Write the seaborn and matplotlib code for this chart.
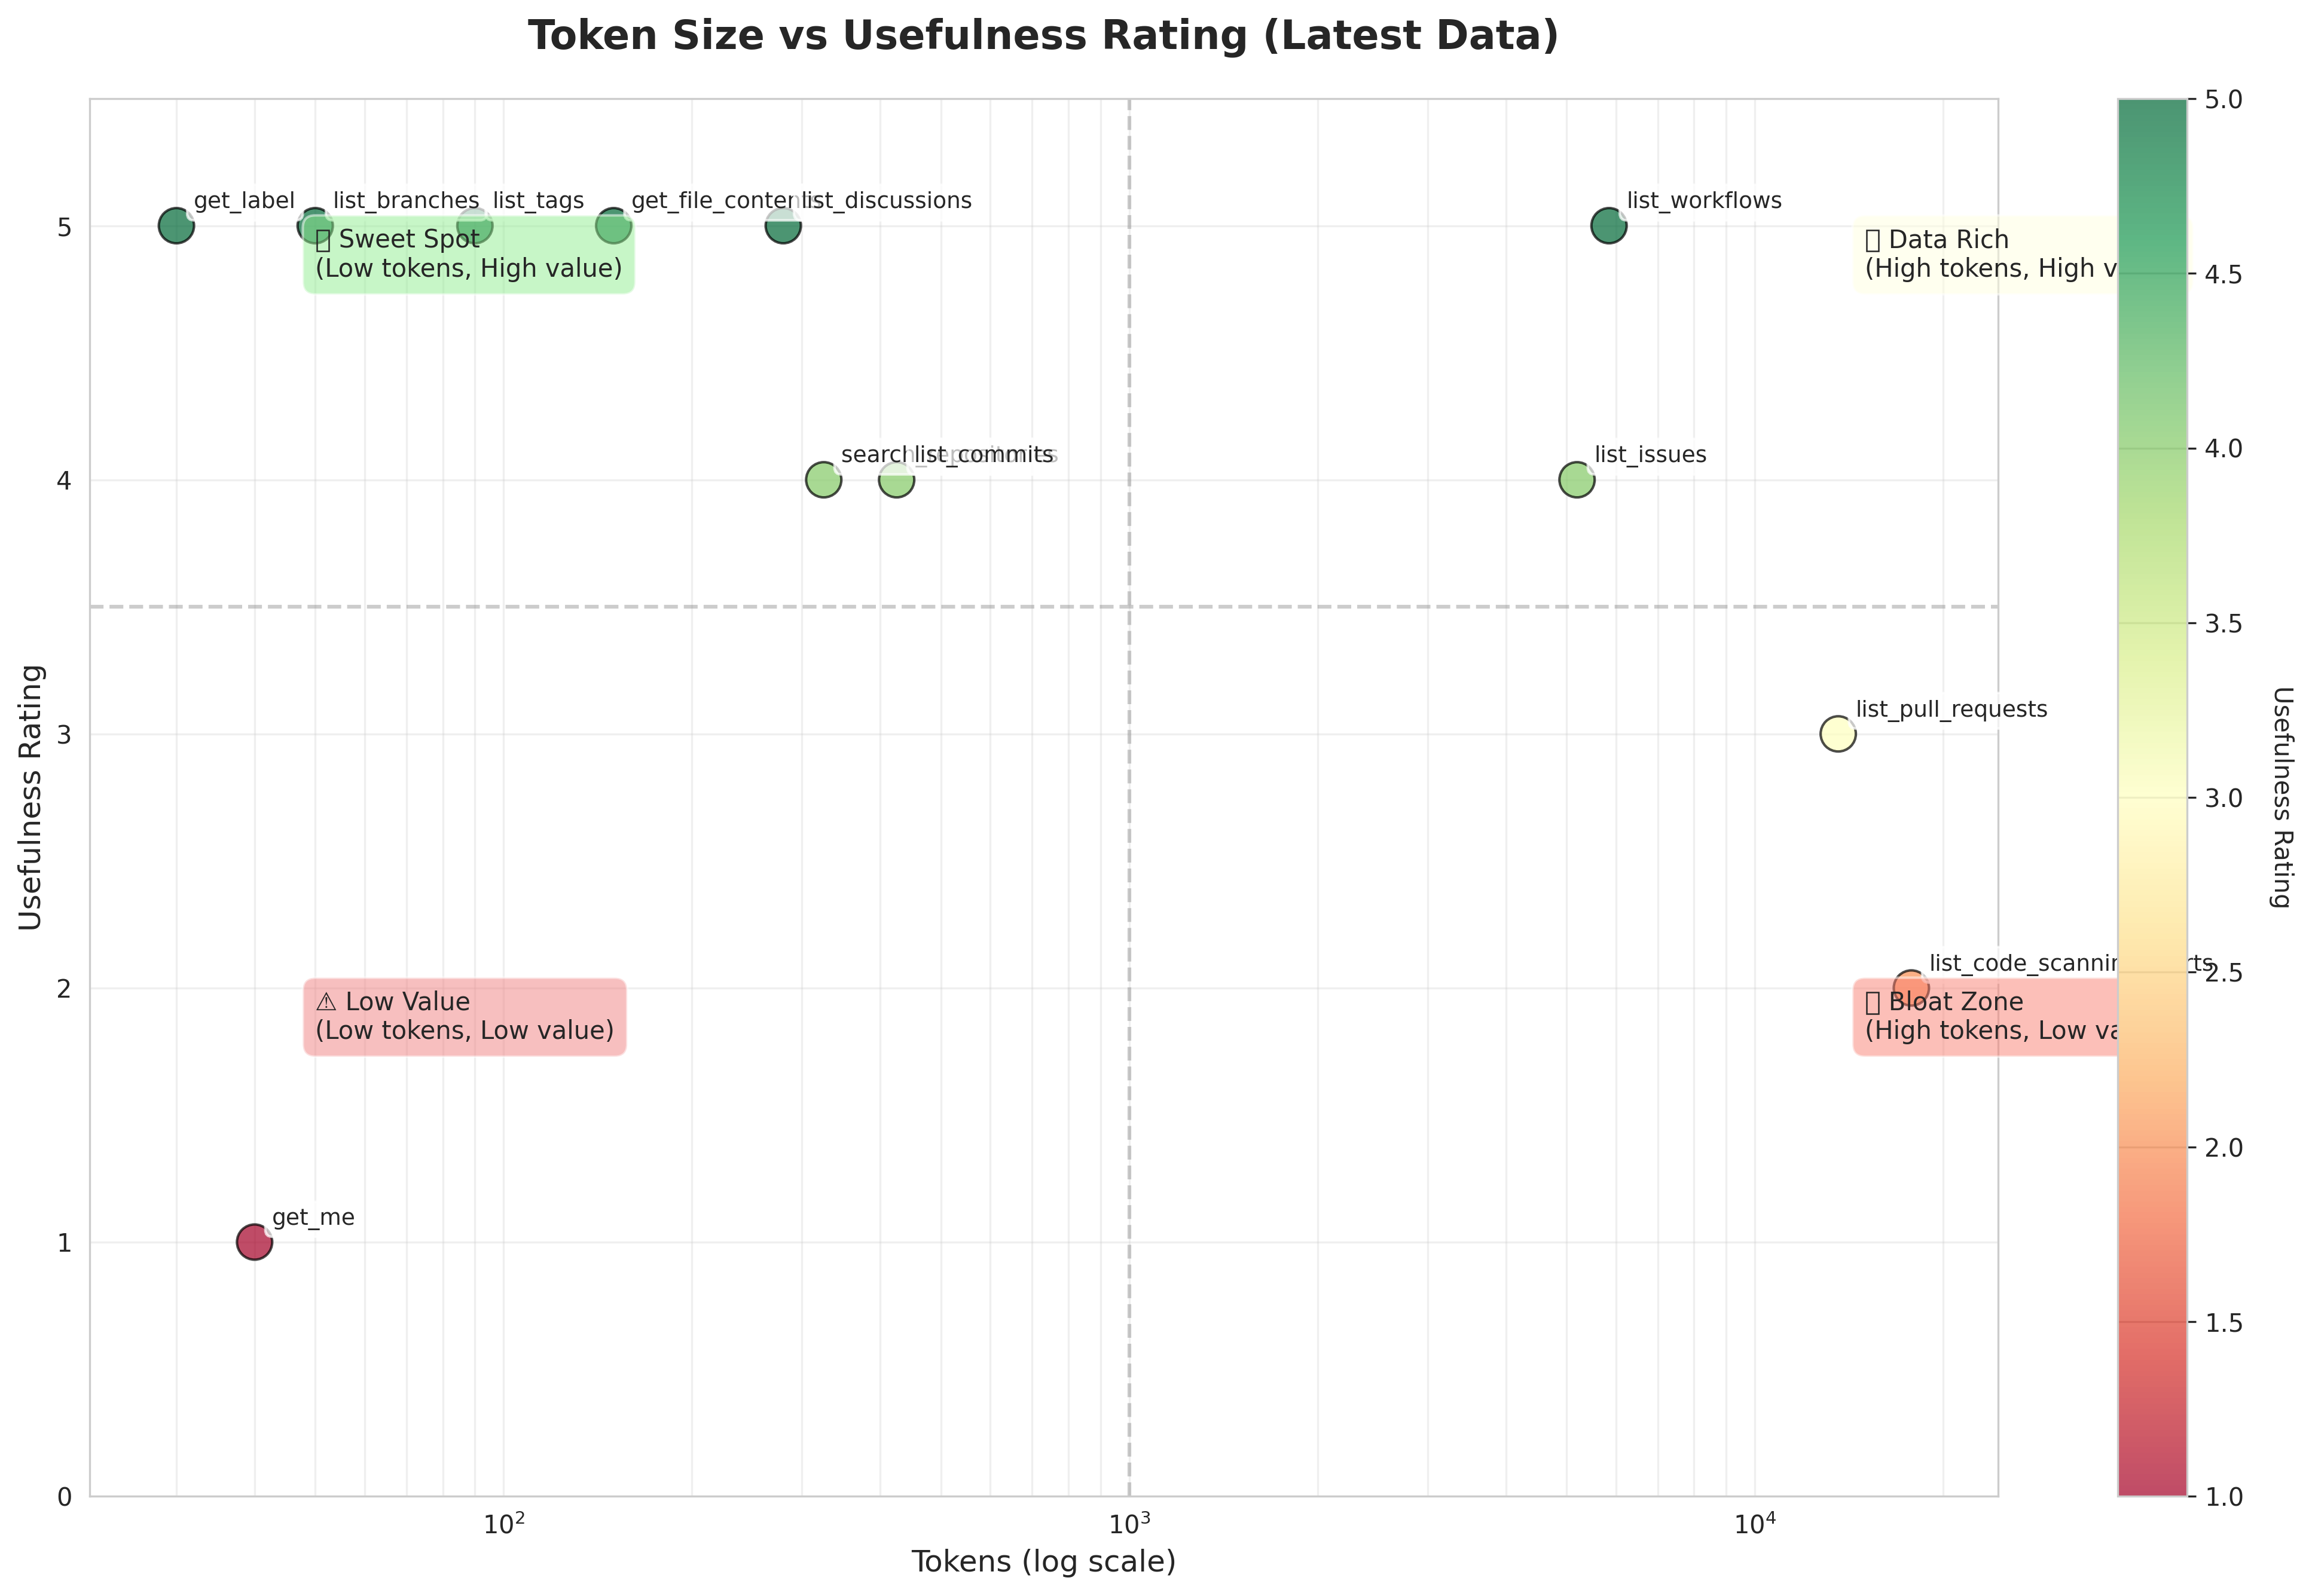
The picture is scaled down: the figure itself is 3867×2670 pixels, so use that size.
import matplotlib
matplotlib.use("Agg")
import matplotlib.pyplot as plt
from matplotlib.patches import Rectangle
from matplotlib.transforms import IdentityTransform
import seaborn as sns
import numpy as np
import pandas as pd

# tool data
tools = ['get_me', 'get_label', 'list_branches', 'list_tags', 'get_file_contents',
         'list_discussions', 'search_repositories', 'list_commits', 'list_issues',
         'list_workflows', 'list_pull_requests', 'list_code_scanning_alerts']
tokens = [40, 30, 50, 90, 150, 280, 325, 425, 5200, 5850, 13600, 17800]
ratings = [1, 5, 5, 5, 5, 5, 4, 4, 4, 5, 3, 2]

# quadrant notes: (x, y, text, colour, emoji glyph missing from the fonts?)
note_x = [50, 15000, 50, 15000]
note_y = [4.885, 4.885, 1.885, 1.885]
note_text = ['   Sweet Spot\n(Low tokens, High value)',
             '   Data Rich\n(High tokens, High value)',
             '⚠ Low Value\n(Low tokens, Low value)',
             '   Bloat Zone\n(High tokens, Low value)']
note_color = ['lightgreen', 'lightyellow', 'lightcoral', 'salmon']
note_tofu = [True, True, False, True]

df = pd.DataFrame({'tool': tools, 'tokens': tokens, 'rating': ratings})

sns.set_style('whitegrid')

W, H, DPI = 3867, 2670, 300
fig = plt.figure(figsize=(W / DPI, H / DPI), dpi=DPI)
ax = fig.add_axes([150 / W, 167 / H, 3192 / W, 2338 / H])
cax = fig.add_axes([3542 / W, 167 / H, 116 / W, 2338 / H])

sns.scatterplot(data=df, x='tokens', y='rating', hue='rating', palette='RdYlGn',
                hue_norm=(1, 5), s=200, alpha=0.7, edgecolor='black', linewidth=1,
                legend=False, ax=ax, zorder=2)
ax.set_xscale('log')
ax.set_ylim(0, 5.5)

# label each tool
for _, row in df.iterrows():
    ax.annotate(row['tool'], (row['tokens'], row['rating']),
                xytext=(7, 7), textcoords='offset points', fontsize=9,
                bbox=dict(boxstyle='round,pad=0.3', facecolor='white', alpha=0.7))

# quadrant lines
ax.axvline(1000, color='gray', linestyle='--', alpha=0.4, zorder=1)
ax.axhline(3.5, color='gray', linestyle='--', alpha=0.4, zorder=1)

# quadrant notes
notes = []
for x, y, txt, c in zip(note_x, note_y, note_text, note_color):
    t = ax.text(x, y, txt, fontsize=10, va='center',
                bbox=dict(boxstyle='round,pad=0.5', facecolor=c, alpha=0.5))
    notes.append(t)

ax.grid(True, which='both', alpha=0.3)
ax.set_xlabel('Tokens (log scale)', fontsize=12)
ax.set_ylabel('Usefulness Rating', fontsize=12)
ax.set_title('Token Size vs Usefulness Rating (Latest Data)', fontsize=16,
             fontweight='bold', pad=20)

# colorbar
sm = plt.cm.ScalarMappable(cmap='RdYlGn', norm=plt.Normalize(1, 5))
cbar = fig.colorbar(sm, cax=cax, alpha=0.7)
cbar.set_label('Usefulness Rating', rotation=270, labelpad=20, fontsize=10)

# the emoji have no glyph in any installed font: draw the empty box the reference shows
fig.canvas.draw()
renderer = fig.canvas.get_renderer()
for t, tofu in zip(notes, note_tofu):
    if not tofu:
        continue
    bb = t.get_window_extent(renderer)
    _, h, d = renderer.get_text_width_height_descent('lp', t.get_fontproperties(), ismath=False)
    base = bb.y1 - (h - d)
    em = t.get_fontsize() * DPI / 72
    fig.add_artist(Rectangle((bb.x0 + 0.072 * em, base - 0.15 * em), 0.48 * em, 0.86 * em,
                             fill=False, edgecolor='#262626', linewidth=0.6,
                             transform=IdentityTransform(), zorder=5))

fig.savefig('out.png', dpi=DPI)
